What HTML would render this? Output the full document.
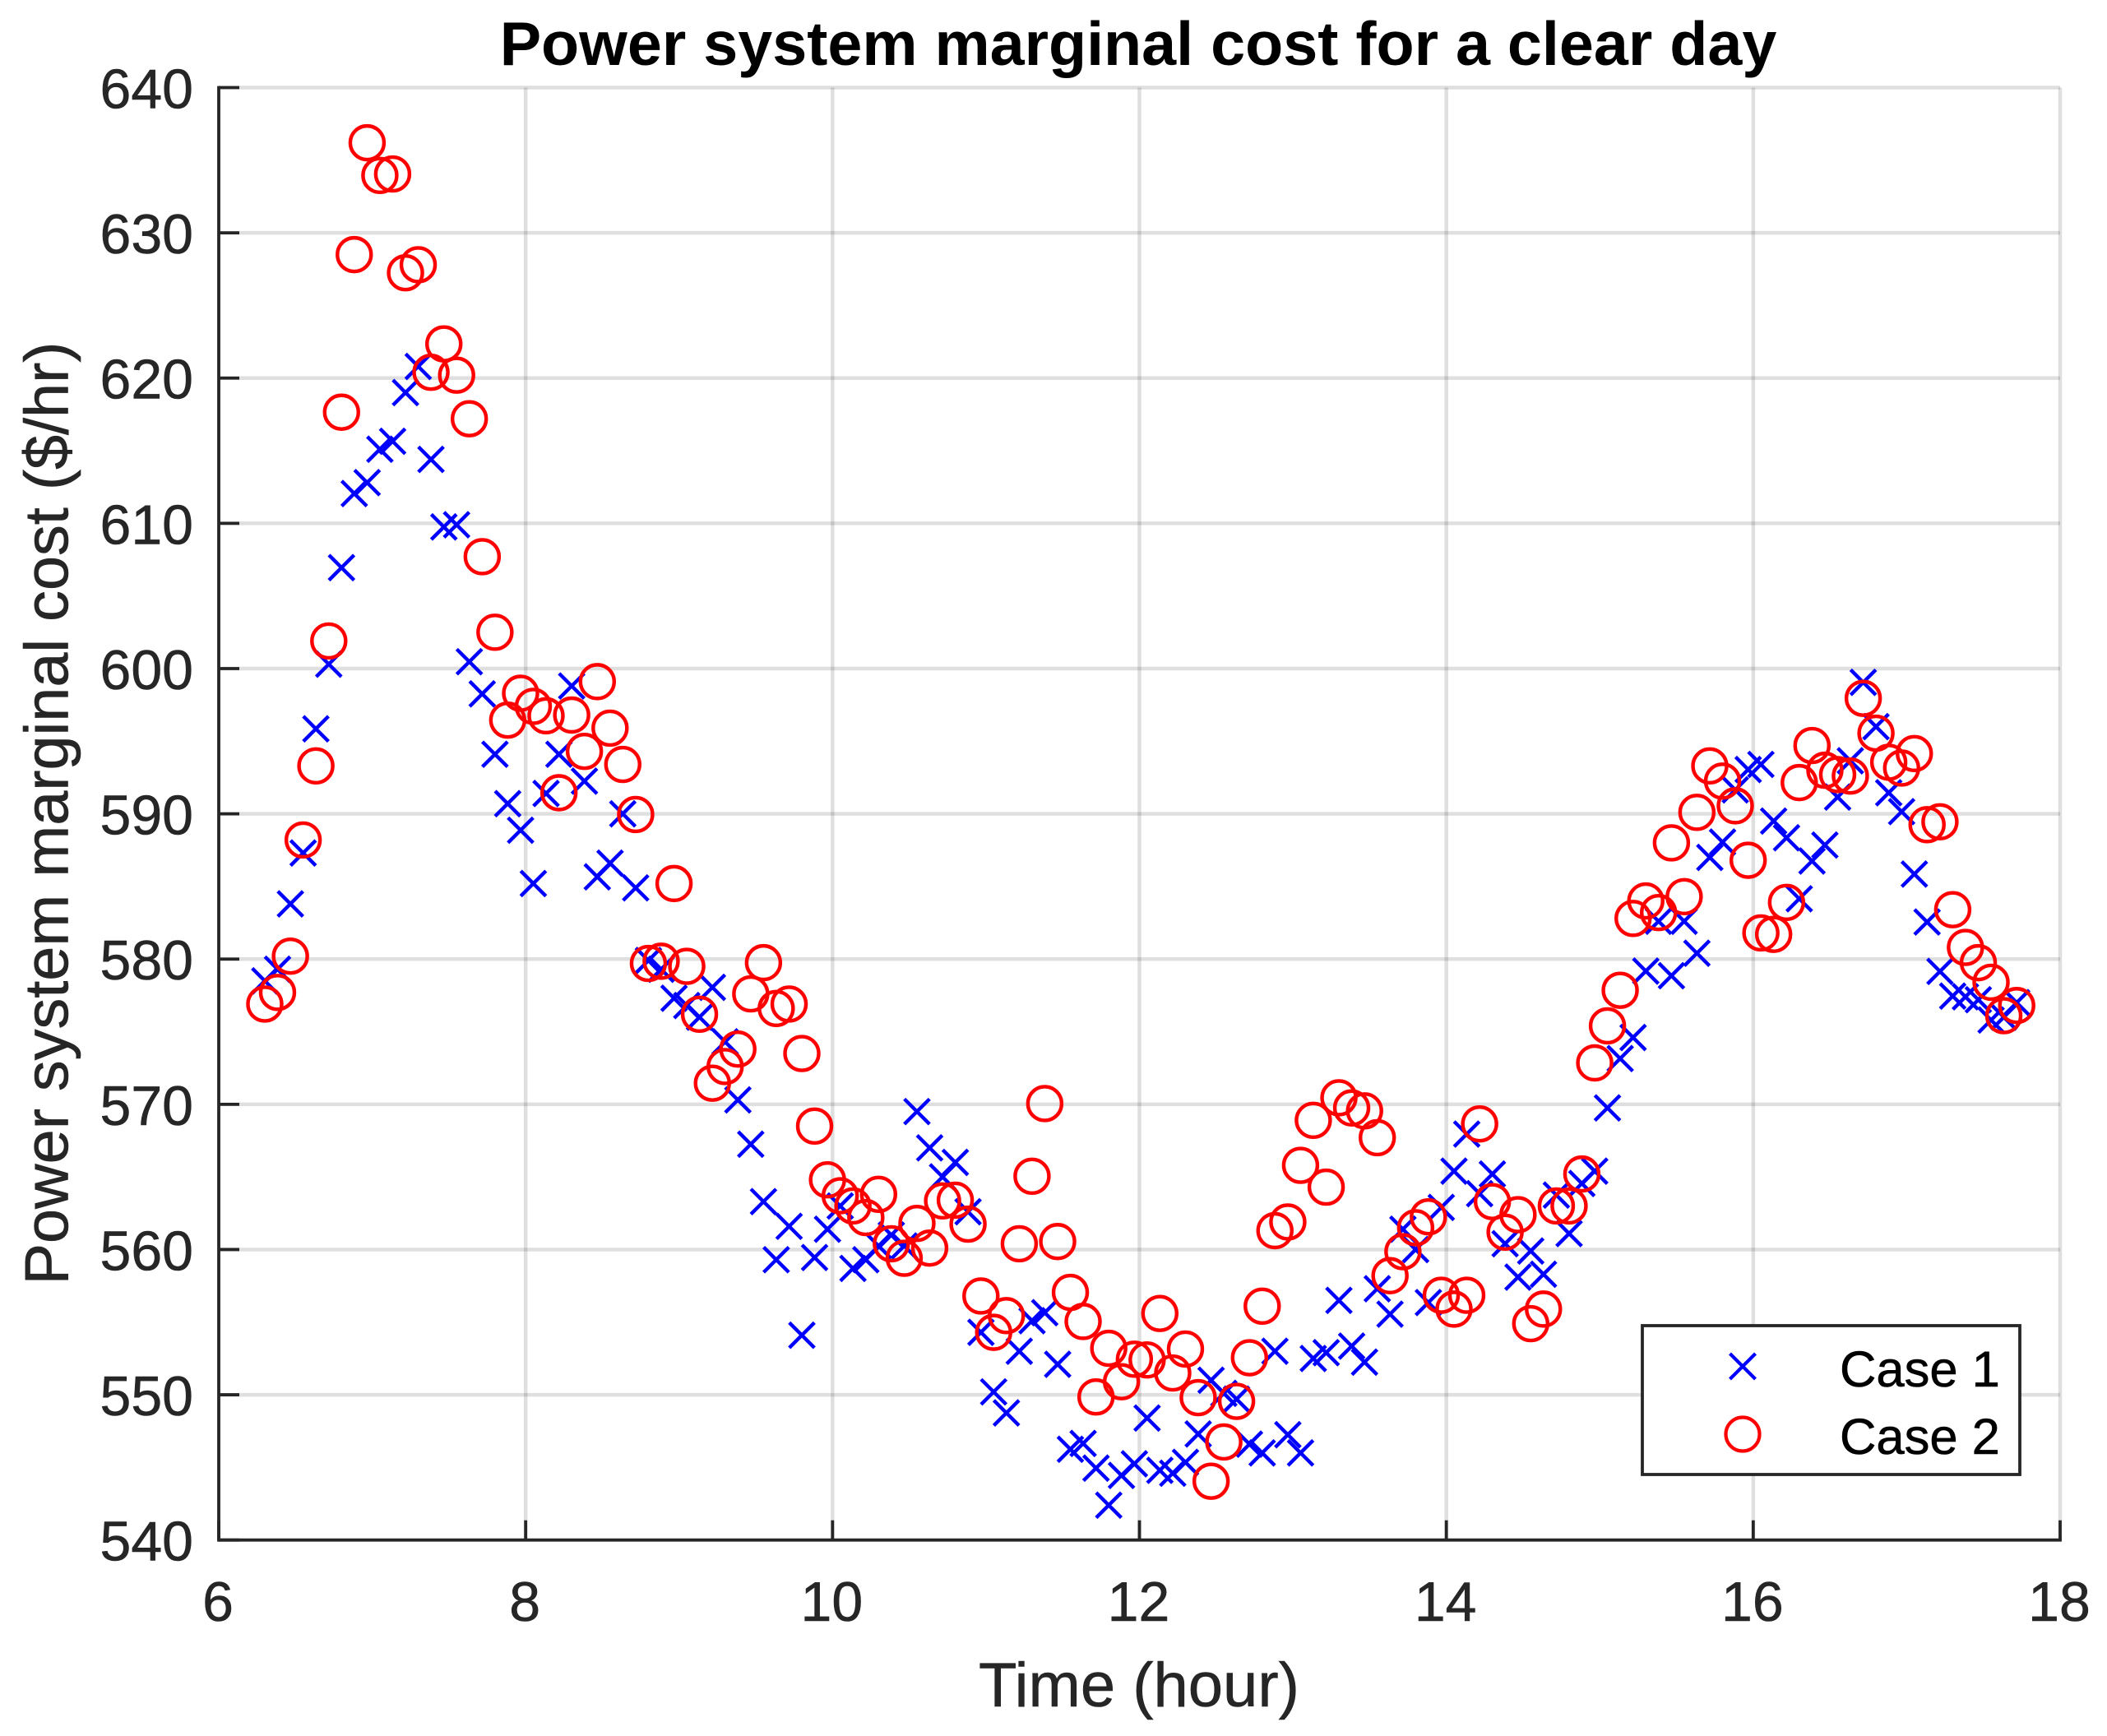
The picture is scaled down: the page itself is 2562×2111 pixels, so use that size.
<!DOCTYPE html>
<html>
<head>
<meta charset="utf-8">
<title>Power system marginal cost for a clear day</title>
<style>
html,body{margin:0;padding:0;background:#fff;}
svg{display:block;font-family:"Liberation Sans",Arial,sans-serif;}
</style>
</head>
<body>
<svg id="chart" xmlns="http://www.w3.org/2000/svg" width="2562" height="2111" viewBox="0 0 2562 2111">
  <rect x="0" y="0" width="2562" height="2111" fill="#fff"/>
  <g id="grid"></g>
  <g id="case1"></g>
  <g id="case2"></g>
  <g id="axes"></g>
  <text x="1384" y="79" text-anchor="middle" font-size="75.5" font-weight="bold" fill="#000">Power system marginal cost for a clear day</text>
  <text x="1385" y="2075" text-anchor="middle" font-size="76" fill="#262626" stroke="#262626" stroke-width="0.6">Time (hour)</text>
  <text transform="translate(82.5,989) rotate(-90)" text-anchor="middle" font-size="75.6" fill="#262626" stroke="#262626" stroke-width="0.6">Power system marginal cost ($/hr)</text>
  <g>
    <rect x="1997" y="1612" width="459" height="181" fill="#fff" stroke="#262626" stroke-width="3.8"/>
    <path d="M2103.5 1646 L2134.5 1677 M2103.5 1677 L2134.5 1646" stroke="#0000ff" stroke-width="4.2" fill="none"/>
    <circle cx="2119" cy="1744" r="20.5" stroke="#ff0000" stroke-width="4.2" fill="none"/>
    <text x="2237" y="1686" font-size="61.5" fill="#000" stroke="#000" stroke-width="0.6">Case 1</text>
    <text x="2237" y="1768" font-size="61.5" fill="#000" stroke="#000" stroke-width="0.6">Case 2</text>
  </g>
</svg>
<script>
const xTicks = [6, 8, 10, 12, 14, 16, 18];
const yTicks = [540, 550, 560, 570, 580, 590, 600, 610, 620, 630, 640];

const hours = [
6.300,6.383,6.467,6.550,6.633,6.717,6.800,6.883,6.967,7.050,
7.133,7.217,7.300,7.383,7.467,7.550,7.633,7.717,7.800,7.883,
7.967,8.050,8.133,8.217,8.300,8.383,8.467,8.550,8.633,8.717,
8.800,8.883,8.967,9.050,9.133,9.217,9.300,9.383,9.467,9.550,
9.633,9.717,9.800,9.883,9.967,10.050,10.133,10.217,10.300,10.383,
10.467,10.550,10.633,10.717,10.800,10.883,10.967,11.050,11.133,11.217,
11.300,11.383,11.467,11.550,11.633,11.717,11.800,11.883,11.967,12.050,
12.133,12.217,12.300,12.383,12.467,12.550,12.633,12.717,12.800,12.883,
12.967,13.050,13.133,13.217,13.300,13.383,13.467,13.550,13.633,13.717,
13.800,13.883,13.967,14.050,14.133,14.217,14.300,14.383,14.467,14.550,
14.633,14.717,14.800,14.883,14.967,15.050,15.133,15.217,15.300,15.383,
15.467,15.550,15.633,15.717,15.800,15.883,15.967,16.050,16.133,16.217,
16.300,16.383,16.467,16.550,16.633,16.717,16.800,16.883,16.967,17.050,
17.133,17.217,17.300,17.383,17.467,17.550,17.633,17.717];

const case1 = [
578.5,579.3,583.8,587.3,595.85,600.3,606.95,612.05,612.8,615.1,
615.65,619.0,620.8,614.4,609.75,609.9,600.47,598.26,594.1,590.7,
588.87,585.2,591.4,594.1,598.8,592.25,585.66,586.6,590.0,584.9,
579.9,579.3,577.3,576.8,576.0,578.05,574.3,570.3,567.25,563.3,
559.3,561.6,554.1,559.45,561.4,563.0,558.7,559.3,560.25,561.0,
560.25,569.5,567.0,565.0,566.0,562.6,554.3,550.2,548.75,553.0,
555.1,555.65,552.1,546.25,546.65,544.95,542.4,544.45,545.25,548.4,
544.8,544.6,545.35,547.3,551.0,550.1,549.7,546.6,546.0,553.0,
547.25,546.0,552.5,552.9,556.5,553.35,552.25,557.3,555.55,561.4,
560.0,556.35,562.9,565.4,567.95,563.85,565.2,560.4,558.1,559.9,
558.3,563.75,561.1,564.55,565.4,569.75,573.15,574.6,579.17,582.6,
578.85,582.6,580.4,587.0,588.05,591.65,593.05,593.4,589.5,588.35,
584.15,586.75,587.85,591.15,593.65,599.05,596.0,591.45,590.15,585.85,
582.55,579.15,577.45,577.4,577.2,575.8,576.0,577.0];

const case2 = [
576.9,577.7,580.2,588.2,593.3,601.9,617.65,628.5,636.2,633.95,
634.05,627.25,627.8,620.4,622.35,620.2,617.2,607.7,602.5,596.45,
598.3,597.4,596.75,591.45,596.8,594.3,599.1,595.9,593.4,589.95,
579.7,579.85,585.2,579.5,576.2,571.45,572.6,573.8,577.6,579.75,
576.6,576.9,573.5,568.5,564.8,563.7,563.0,562.2,563.8,560.4,
559.4,561.8,560.1,563.35,563.4,561.75,556.8,554.3,555.45,560.4,
565.05,570.05,560.55,557.05,555.05,549.85,553.2,550.9,552.45,552.4,
555.6,551.5,553.15,549.8,544.05,546.75,549.55,552.55,556.1,561.3,
561.9,565.8,568.9,564.3,570.45,569.75,569.55,567.7,558.2,559.85,
561.5,562.25,556.85,555.9,556.85,568.65,563.3,561.2,562.4,554.9,
555.9,563.0,563.0,565.2,572.85,575.4,577.85,582.8,584.0,583.2,
588.0,584.3,590.1,593.3,592.25,590.55,586.8,581.8,581.7,583.9,
592.15,594.7,593.0,592.7,592.6,597.95,595.55,593.55,593.15,594.15,
589.25,589.45,583.4,580.8,579.75,578.4,576.1,576.8];

const NS = 'http://www.w3.org/2000/svg';
const plotLeft = 266, plotRight = 2505, plotTop = 106.5, plotBottom = 1872.7;
const xMin = 6, xMax = 18, yMin = 540, yMax = 640;
const axisColor = '#262626';

function xScale(v) { return plotLeft + (v - xMin) / (xMax - xMin) * (plotRight - plotLeft); }
function yScale(v) { return plotBottom - (v - yMin) / (yMax - yMin) * (plotBottom - plotTop); }

function drawLine(parent, x1, y1, x2, y2, color, width, name) {
  const el = document.createElementNS(NS, 'line');
  el.setAttribute('x1', x1);
  el.setAttribute('y1', y1);
  el.setAttribute('x2', x2);
  el.setAttribute('y2', y2);
  el.setAttribute('stroke', color);
  el.setAttribute('stroke-width', width);
  
  
  parent.appendChild(el);
}

function drawLabel(parent, x, y, anchor, label, name) {
  const el = document.createElementNS(NS, 'text');
  el.setAttribute('x', x);
  el.setAttribute('y', y);
  el.setAttribute('text-anchor', anchor);
  el.setAttribute('font-size', '68');
  el.setAttribute('fill', axisColor);
  el.setAttribute('stroke', axisColor);
  el.setAttribute('stroke-width', '0.6');
  
  
  el.textContent = label;
  parent.appendChild(el);
}

const gridGroup = document.getElementById('grid');
const axesGroup = document.getElementById('axes');
const gridColor = 'rgba(38,38,38,0.15)';

xTicks.forEach(function (t) {
  const x = xScale(t);
  if (t !== xMin) {
    drawLine(gridGroup, x, plotTop, x, plotBottom, gridColor, 4.5, 'x-gridline-' + t);
  }
  drawLine(axesGroup, x, plotBottom, x, plotBottom - 24, axisColor, 3.8, 'x-tick-' + t);
  drawLabel(axesGroup, x - 1, 1971, 'middle', String(t), 'x-tick-label-' + t);
});

yTicks.forEach(function (t) {
  const y = yScale(t);
  if (t !== yMin) {
    drawLine(gridGroup, plotLeft, y, plotRight, y, gridColor, 4.5, 'y-gridline-' + t);
  }
  drawLine(axesGroup, plotLeft, y, plotLeft + 25, y, axisColor, 3.8, 'y-tick-' + t);
  drawLabel(axesGroup, 235, y + 25, 'end', String(t), 'y-tick-label-' + t);
});

drawLine(axesGroup, plotLeft, plotTop - 1.9, plotLeft, plotBottom + 1.9, axisColor, 3.8, 'y-axis-line');
drawLine(axesGroup, plotLeft, plotBottom, plotRight + 1.9, plotBottom, axisColor, 3.8, 'x-axis-line');

const case1Group = document.getElementById('case1');
const crossHalf = 15.3;
hours.forEach(function (h, i) {
  const cx = xScale(h);
  const cy = yScale(case1[i]);
  const d = 'M' + (cx - crossHalf) + ' ' + (cy - crossHalf) + ' L' + (cx + crossHalf) + ' ' + (cy + crossHalf) +
            ' M' + (cx - crossHalf) + ' ' + (cy + crossHalf) + ' L' + (cx + crossHalf) + ' ' + (cy - crossHalf);
  const el = document.createElementNS(NS, 'path');
  el.setAttribute('d', d);
  el.setAttribute('stroke', '#0000ff');
  el.setAttribute('stroke-width', '4.4');
  el.setAttribute('fill', 'none');
  
  
  case1Group.appendChild(el);
});

const case2Group = document.getElementById('case2');
hours.forEach(function (h, i) {
  const el = document.createElementNS(NS, 'circle');
  el.setAttribute('cx', xScale(h));
  el.setAttribute('cy', yScale(case2[i]));
  el.setAttribute('r', '20.5');
  el.setAttribute('stroke', '#ff0000');
  el.setAttribute('stroke-width', '4.4');
  el.setAttribute('fill', 'none');
  
  
  case2Group.appendChild(el);
});
</script>
</body>
</html>
